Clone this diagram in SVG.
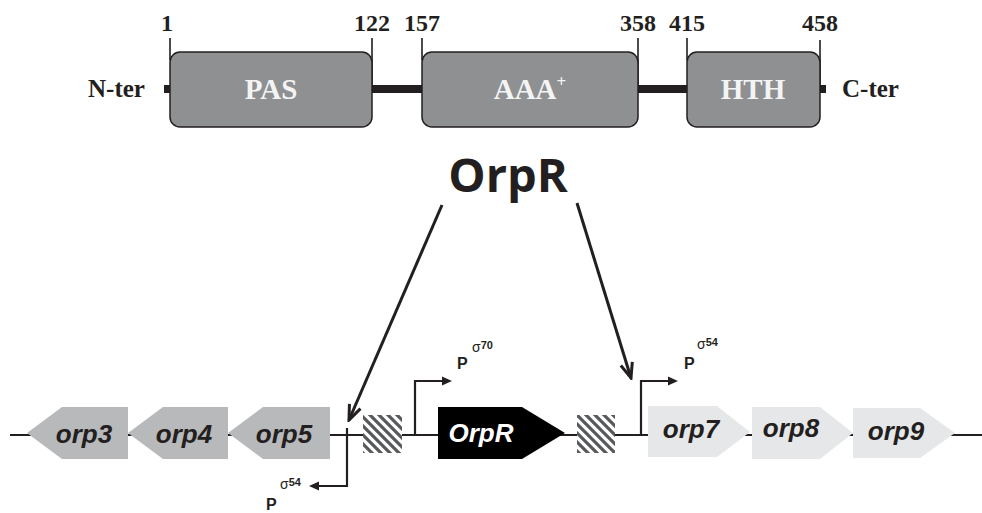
<svg xmlns="http://www.w3.org/2000/svg" width="982" height="513" viewBox="0 0 982 513">
<defs>
<style>
.num{font-family:"Liberation Serif",serif;font-weight:bold;font-size:24px;fill:#231f20;text-anchor:middle}
.term{font-family:"Liberation Serif",serif;font-weight:bold;font-size:25px;fill:#231f20}
.dom{font-family:"Liberation Serif",serif;font-weight:bold;font-size:29px;fill:#f4f4f4;text-anchor:middle}
.box{fill:#8f9092;stroke:#231f20;stroke-width:1.5}
.tick{stroke:#231f20;stroke-width:1.6;fill:none}
.link{fill:#231f20}
.title{font-family:"Open Sans","Liberation Sans",sans-serif;font-weight:bold;font-size:47px;fill:#231f20;text-anchor:middle}
.gl{font-family:"Liberation Sans",Arial,sans-serif;font-weight:bold;font-style:italic;font-size:26px;fill:#231f20;text-anchor:middle}
.gw{font-family:"Liberation Sans",Arial,sans-serif;font-weight:bold;font-style:italic;font-size:26px;fill:#ffffff;text-anchor:middle}
.left{fill:#b8b9bb}
.right{fill:#e6e7e8}
.dna{stroke:#231f20;stroke-width:2;fill:none}
.prom{stroke:#231f20;stroke-width:2.2;fill:none}
.ah{fill:#231f20}
.p{font-family:"Liberation Sans",Arial,sans-serif;font-weight:bold;font-size:16px;fill:#231f20}
.sig{font-family:"Liberation Sans",Arial,sans-serif;font-size:14px;fill:#231f20}
.sup{font-weight:bold;font-size:11px}
.conn{stroke:#231f20;stroke-width:3;fill:none}
</style>
<pattern id="hatch" patternUnits="userSpaceOnUse" width="9" height="9">
<rect width="9" height="9" fill="#ffffff"/>
<path d="M-2,-2 L11,11 M-2,7 L2,11 M7,-2 L11,2" stroke="#58595b" stroke-width="3.2"/>
</pattern>
<marker id="open" viewBox="0 0 18 18" refX="16" refY="9" markerWidth="18" markerHeight="18" markerUnits="userSpaceOnUse" orient="auto">
<path d="M1,3 L16,9 L1,15" fill="none" stroke="#231f20" stroke-width="3"/>
</marker>
</defs>
<rect width="982" height="513" fill="#ffffff"/>

<g id="protein">
<rect class="link" x="164" y="85" width="8" height="8"/>
<rect class="link" x="370" y="85" width="54" height="8"/>
<rect class="link" x="636" y="85" width="53" height="8"/>
<rect class="link" x="818" y="85" width="8" height="8"/>
<text class="term" x="88" y="97">N-ter</text>
<text class="term" x="842" y="97">C-ter</text>
<path class="tick" d="M170,38 V60 M372,38 V88 M422,38 V60 M638,38 V88 M687,38 V60 M820,40 V88"/>
<text class="num" x="167" y="31">1</text>
<text class="num" x="372" y="31">122</text>
<text class="num" x="422" y="31">157</text>
<text class="num" x="638" y="31">358</text>
<text class="num" x="687" y="31">415</text>
<text class="num" x="820" y="31">458</text>
</g>
<g id="pas">
<rect class="box" x="170" y="52" width="202" height="75" rx="10"/>
<text class="dom" x="271" y="99">PAS</text>
</g>
<g id="aaa">
<rect class="box" x="422" y="52" width="216" height="75" rx="10"/>
<text class="dom" x="530" y="99">AAA<tspan font-size="17" dy="-12">+</tspan></text>
</g>
<g id="hth">
<rect class="box" x="687" y="52" width="133" height="75" rx="10"/>
<text class="dom" x="753" y="99">HTH</text>
</g>

<g id="orpr-title">
<text class="title" x="508" y="192">OrpR</text>
</g>

<g id="dna">
<path class="dna" d="M10,435 H982"/>
</g>

<g id="orp3">
<polygon class="left" points="27,433 62,407 128,407 128,459 62,459"/>
<text class="gl" x="84" y="443">orp3</text>
</g>
<g id="orp4">
<polygon class="left" points="128,433 163,407 228,407 228,459 163,459"/>
<text class="gl" x="184" y="443">orp4</text>
</g>
<g id="orp5">
<polygon class="left" points="228,433 263,407 330,407 330,459 263,459"/>
<text class="gl" x="284" y="443">orp5</text>
</g>

<g id="site1">
<rect x="363" y="415" width="39" height="38" fill="url(#hatch)"/>
</g>
<g id="site2">
<rect x="577" y="415" width="38" height="38" fill="url(#hatch)"/>
</g>

<g id="orpR-gene">
<polygon fill="#000000" points="438,407 522,407 565,433 522,459 438,459"/>
<text class="gw" x="481" y="442">OrpR</text>
</g>

<g id="orp7">
<polygon class="right" points="648,406 717,406 750,432 717,457 648,457"/>
<text class="gl" x="691" y="438">orp7</text>
</g>
<g id="orp8">
<polygon class="right" points="752,407 820,407 853,433 820,459 752,459"/>
<text class="gl" x="791" y="437">orp8</text>
</g>
<g id="orp9">
<polygon class="right" points="853,408 920,408 955,433 920,458 853,458"/>
<text class="gl" x="896" y="440">orp9</text>
</g>

<g id="p70">
<path class="prom" d="M415,435 V381 H443"/>
<polygon class="ah" points="452,381 442,376.5 442,385.5"/>
<text class="p" x="457" y="369">P</text>
<text class="sig" x="472" y="352">σ<tspan class="sup" dy="-3">70</tspan></text>
</g>
<g id="p54-right">
<path class="prom" d="M641,435 V381 H669"/>
<polygon class="ah" points="678,381 668,376.5 668,385.5"/>
<text class="p" x="684" y="369">P</text>
<text class="sig" x="697" y="349">σ<tspan class="sup" dy="-3">54</tspan></text>
</g>
<g id="p54-left">
<path class="prom" d="M347,428 V486 H318"/>
<polygon class="ah" points="309,486 319,481.5 319,490.5"/>
<text class="p" x="266" y="510">P</text>
<text class="sig" x="280" y="489">σ<tspan class="sup" dy="-3">54</tspan></text>
</g>

<g id="connectors">
<path class="conn" d="M442,205 L349,420" marker-end="url(#open)"/>
<path class="conn" d="M577,203 L631,378" marker-end="url(#open)"/>
</g>
</svg>
